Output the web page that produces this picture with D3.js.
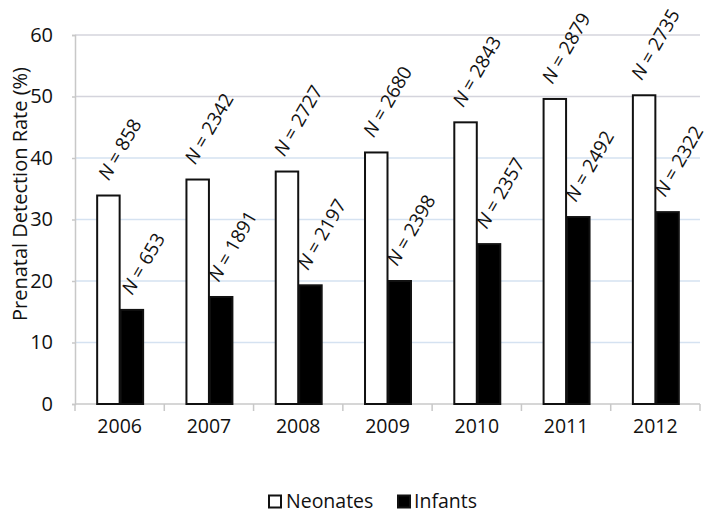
<!DOCTYPE html>
<html>
<head>
<meta charset="utf-8">
<script src="https://cdn.jsdelivr.net/npm/d3@7"></script>
<style>
  html, body { margin: 0; padding: 0; background: #fff; }
  svg text { font-family: "Open Sans", "Liberation Sans", sans-serif; fill: #111; }
</style>
</head>
<body>
<svg id="chart" width="709" height="514"></svg>
<script>
const years = ["2006", "2007", "2008", "2009", "2010", "2011", "2012"];
const seriesNames = ["Neonates", "Infants"];
const neonates = [33.9, 36.5, 37.8, 40.9, 45.8, 49.6, 50.2];
const infants = [15.3, 17.4, 19.3, 20.0, 26.0, 30.4, 31.2];
const neonatesN = [858, 2342, 2727, 2680, 2843, 2879, 2735];
const infantsN = [653, 1891, 2197, 2398, 2357, 2492, 2322];
const yTicks = [0, 10, 20, 30, 40, 50, 60];

(function() {
const svg = d3.select("#chart");
const pLeft = 75, pRight = 700, pTop = 35, pBottom = 404;

const x0 = d3.scaleBand().domain(years).range([pLeft, pRight])
  .paddingInner(0.474).paddingOuter(0.237);
const x1 = d3.scaleBand().domain(seriesNames).range([0, x0.bandwidth()]);
const y = d3.scaleLinear().domain([0, 60]).range([pBottom, pTop]);

// gridlines
svg.append("g").selectAll("line").data(yTicks.filter(d => d > 0)).join("line")
  .attr("x1", pLeft).attr("x2", pRight)
  .attr("y1", d => y(d)).attr("y2", d => y(d))
  .attr("stroke", d => d >= 50 ? "#d4d4dc" : "#d5e2f1")
  .attr("stroke-width", 1.5);

// y axis
const yAxis = svg.append("g").attr("transform", `translate(${pLeft},0)`)
  .call(d3.axisLeft(y).tickValues(yTicks).tickSize(3).tickPadding(19));
yAxis.select(".domain").attr("stroke", "#c8c8c8").attr("stroke-width", 1.5);
yAxis.selectAll(".tick line").attr("stroke", "#c8c8c8").attr("stroke-width", 1.5);
yAxis.selectAll(".tick text").style("font-size", "20px").attr("fill", "#111");

// x axis
const xAxis = svg.append("g").attr("transform", `translate(0,${pBottom})`)
  .call(d3.axisBottom(x0).tickSize(0).tickPadding(15));
xAxis.select(".domain").remove();
svg.append("line").attr("x1", pLeft).attr("x2", pRight)
  .attr("y1", pBottom).attr("y2", pBottom)
  .attr("stroke", "#c8c8c8").attr("stroke-width", 1.5);
const step = x0.step();
const bounds = d3.range(years.length + 1).map(i => pLeft + i * step);
svg.append("g").selectAll("line").data(bounds).join("line")
  .attr("x1", d => d).attr("x2", d => d)
  .attr("y1", pBottom).attr("y2", pBottom + 7)
  .attr("stroke", "#c8c8c8").attr("stroke-width", 1.5);
xAxis.selectAll(".tick text").style("font-size", "19.5px").attr("fill", "#111");

// y title
svg.append("text")
  .attr("transform", `translate(27,194) rotate(-90)`)
  .attr("text-anchor", "middle")
  .style("font-size", "20px")
  .text("Prenatal Detection Rate (%)");

// bars
const data = years.map((yr, i) => ({
  year: yr,
  vals: [
    { s: "Neonates", v: neonates[i], n: neonatesN[i] },
    { s: "Infants", v: infants[i], n: infantsN[i] }
  ]
}));

const groups = svg.append("g").selectAll("g").data(data).join("g")
  .attr("transform", d => `translate(${x0(d.year)},0)`);

groups.selectAll("rect").data(d => d.vals).join("rect")
  .attr("x", d => x1(d.s) + 1)
  .attr("width", x1.bandwidth() - 1)
  .attr("y", d => y(d.v))
  .attr("height", d => pBottom - y(d.v))
  .attr("fill", d => d.s === "Neonates" ? "#fff" : "#000")
  .attr("stroke", "#111")
  .attr("stroke-width", 2);

// labels
const fs = 19;
groups.each(function(d) {
  const g = d3.select(this);
  d.vals.forEach(v => {
    const t = g.append("text")
      .attr("text-anchor", "start")
      .style("font-size", fs + "px");
    t.append("tspan").style("font-style", "italic").text("N");
    t.append("tspan").text(" = " + v.n);
    const L = t.node().getComputedTextLength();
    const cx = x1(v.s) + x1.bandwidth() / 2 + 0.5;
    const sx = cx + 17 - L / 4;
    const sy = y(v.v) - 14;
    t.attr("transform", `translate(${sx},${sy}) rotate(-60)`);
  });
});

// legend
const legend = svg.append("g");
legend.append("rect").attr("x", 269).attr("y", 495.5).attr("width", 12).attr("height", 12)
  .attr("fill", "#fff").attr("stroke", "#111").attr("stroke-width", 2);
legend.append("text").attr("x", 286).attr("y", 508).style("font-size", "19.5px").text(seriesNames[0]);
legend.append("rect").attr("x", 398).attr("y", 495.5).attr("width", 12).attr("height", 12)
  .attr("fill", "#000").attr("stroke", "#111").attr("stroke-width", 2);
legend.append("text").attr("x", 414).attr("y", 508).style("font-size", "19.5px").text(seriesNames[1]);
})();
</script>
</body>
</html>
